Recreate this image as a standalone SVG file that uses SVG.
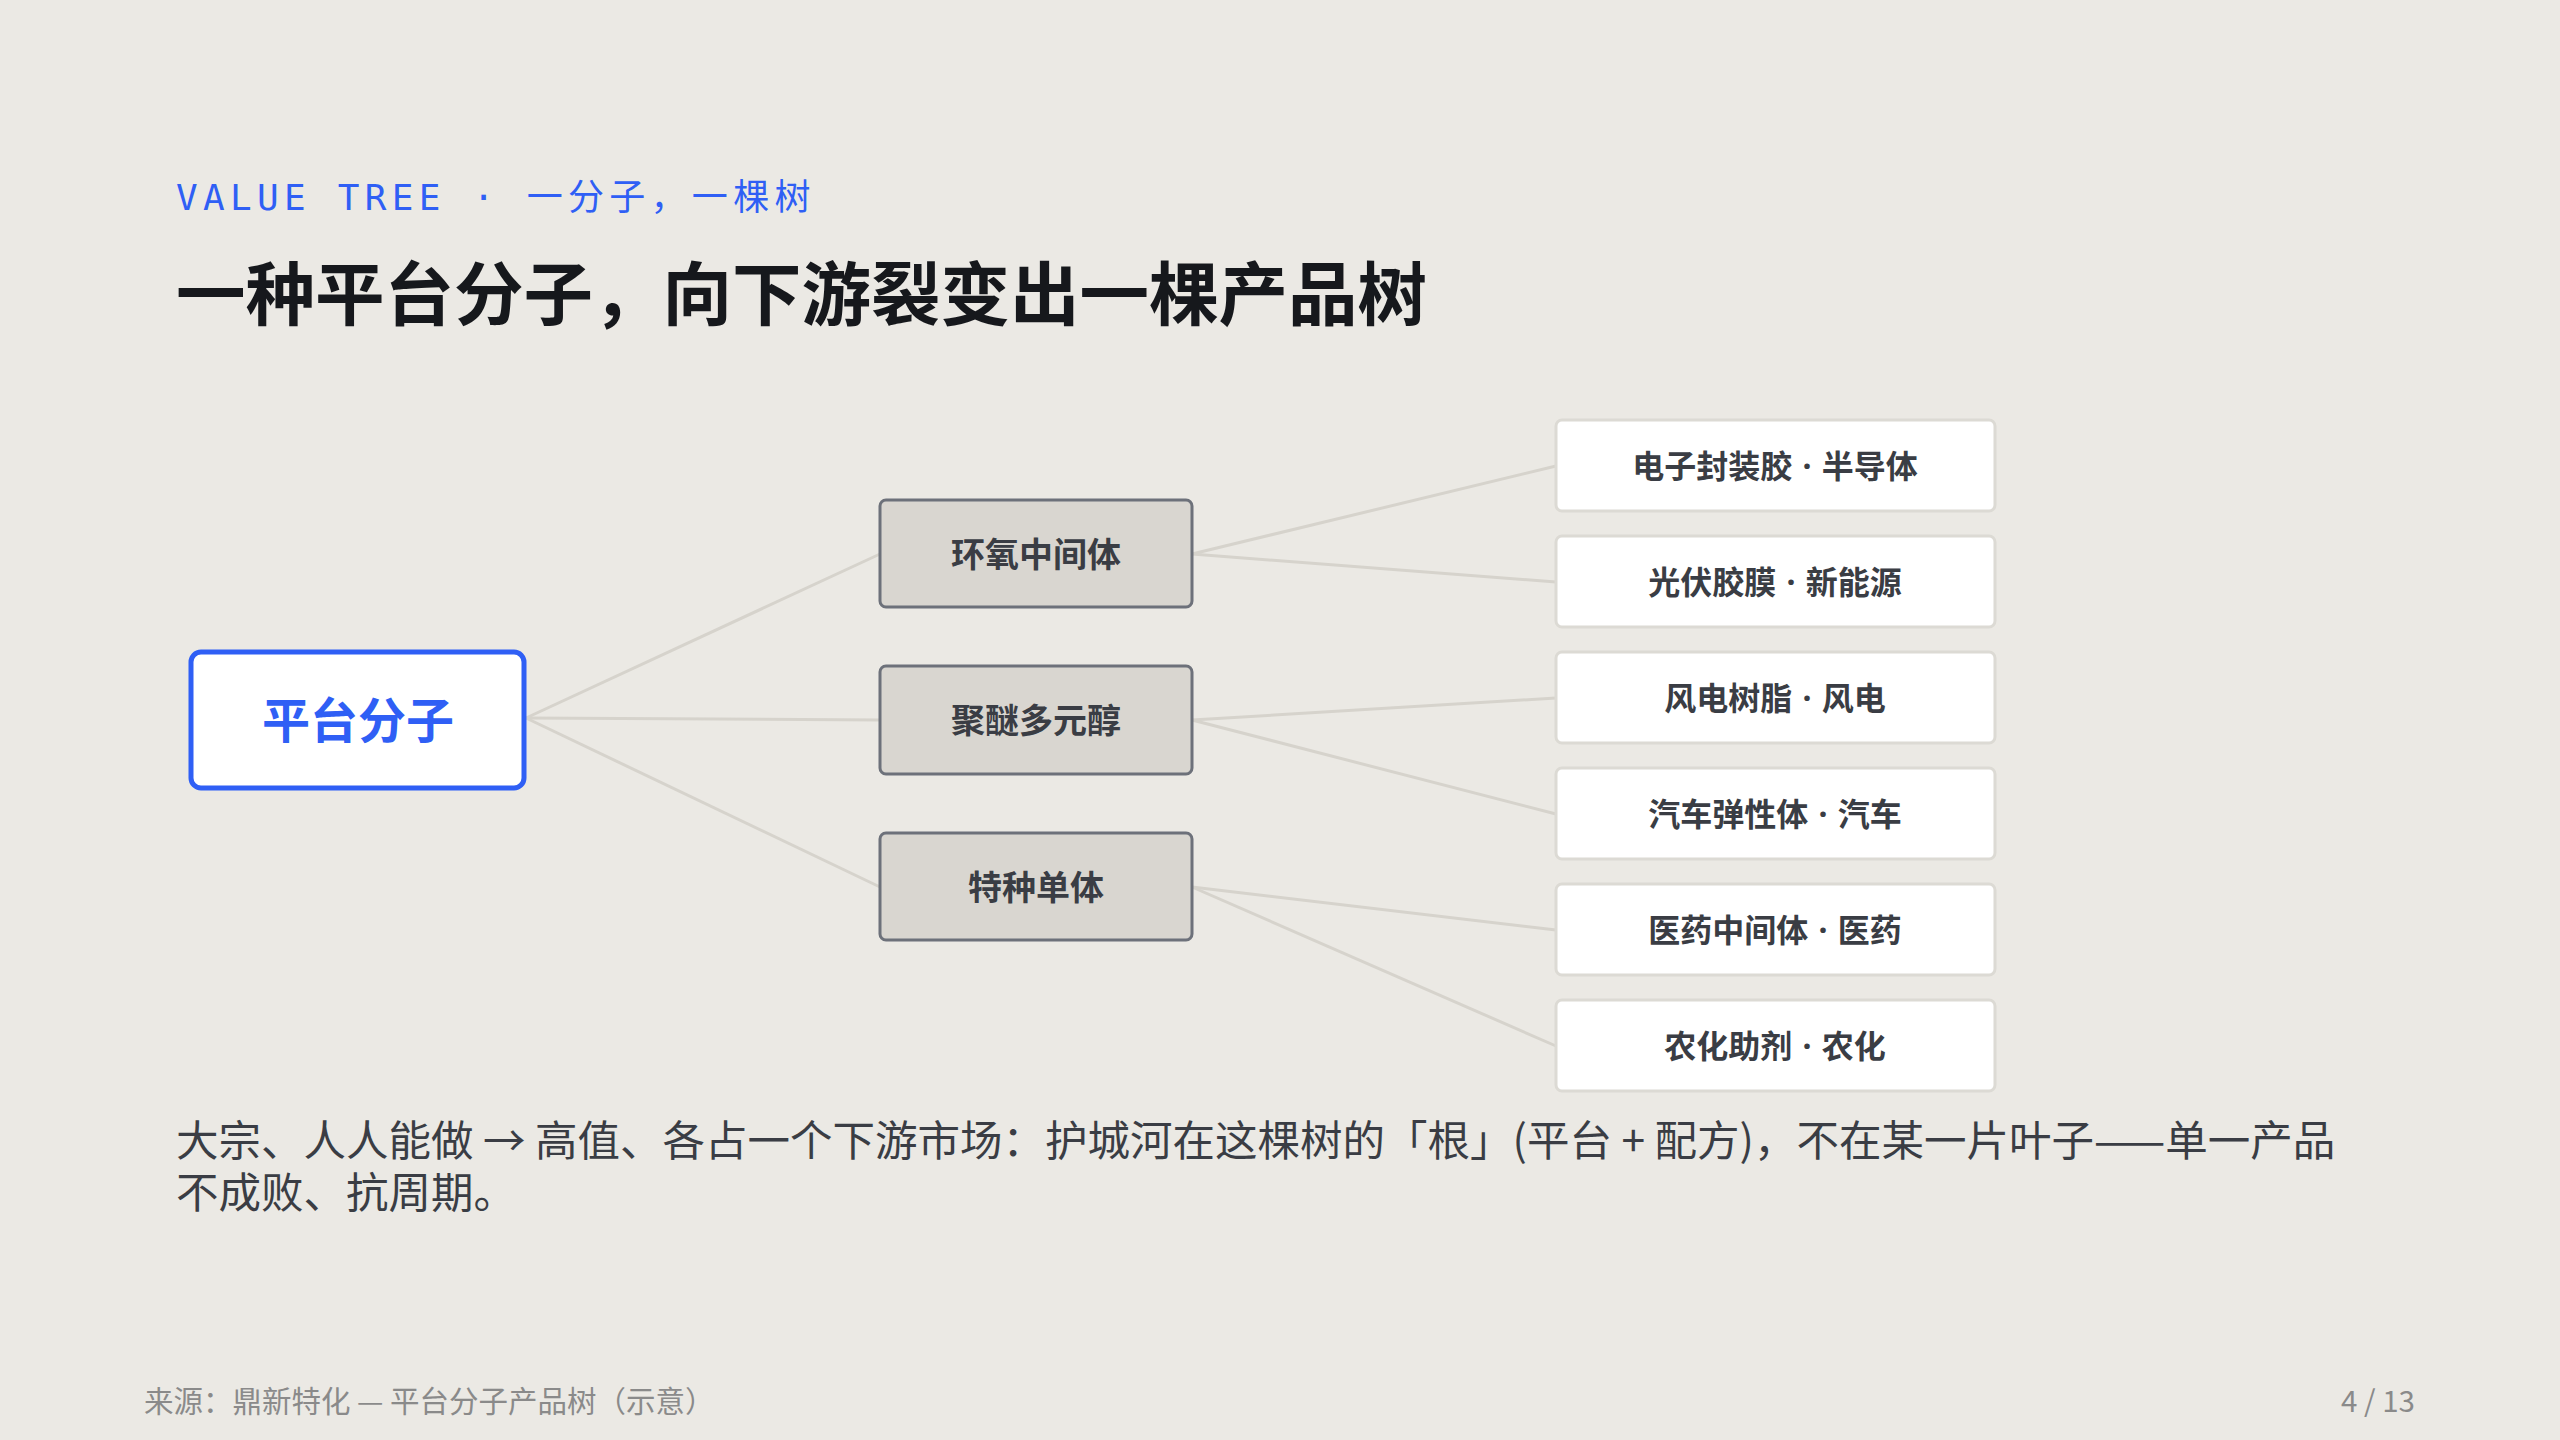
<svg xmlns="http://www.w3.org/2000/svg" width="2560" height="1440" viewBox="0 0 2560 1440">
<style>
text{font-family:"Noto Sans CJK SC","Noto Sans",sans-serif}
.mid rect{fill:#d9d6d0;stroke:#6d717a;stroke-width:3}
.mid text{font-size:34px;font-weight:700;fill:#3a3d44;text-anchor:middle}
.leaf rect{fill:#fff;stroke:#dcdad4;stroke-width:3}
.leaf text{font-size:32px;font-weight:700;fill:#3a3d44;text-anchor:middle;font-family:"Noto Sans","Noto Sans CJK SC",sans-serif;word-spacing:2px}
#edges line{stroke:#d6d3cc;stroke-width:3}
</style>
<rect width="2560" height="1440" fill="#ebe9e4"/>
<text x="176" y="210" font-size="36" fill="#2f5ff5" letter-spacing="5.3" style="font-family:'DejaVu Sans Mono','Noto Sans CJK SC',monospace">VALUE TREE · 一分子，一棵树</text>
<text x="176" y="320" font-size="69.5" font-weight="700" fill="#16181c">一种平台分子，向下游裂变出一棵产品树</text>
<g id="edges">
<line x1="526" y1="718" x2="880" y2="554"/>
<line x1="526" y1="718" x2="880" y2="720"/>
<line x1="526" y1="718" x2="880" y2="887"/>
<line x1="1192" y1="554" x2="1556" y2="466"/>
<line x1="1192" y1="554" x2="1556" y2="582"/>
<line x1="1192" y1="720" x2="1556" y2="698"/>
<line x1="1192" y1="720" x2="1556" y2="814"/>
<line x1="1192" y1="887" x2="1556" y2="930"/>
<line x1="1192" y1="887" x2="1556" y2="1046"/>
</g>
<g id="root"><rect x="191" y="652" width="333" height="136" rx="10" fill="#fff" stroke="#2f5ff5" stroke-width="5"/><text x="358" y="738" font-size="48" font-weight="700" fill="#2f5ff5" text-anchor="middle">平台分子</text></g>
<g id="m1" class="mid"><rect x="880" y="500" width="312" height="107" rx="6"/><text x="1036" y="567">环氧中间体</text></g>
<g id="m2" class="mid"><rect x="880" y="666" width="312" height="108" rx="6"/><text x="1036" y="733">聚醚多元醇</text></g>
<g id="m3" class="mid"><rect x="880" y="833" width="312" height="107" rx="6"/><text x="1036" y="900">特种单体</text></g>
<g id="l1" class="leaf"><rect x="1556" y="420" width="439" height="91" rx="6"/><text x="1775" y="478">电子封装胶 · 半导体</text></g>
<g id="l2" class="leaf"><rect x="1556" y="536" width="439" height="91" rx="6"/><text x="1775" y="594">光伏胶膜 · 新能源</text></g>
<g id="l3" class="leaf"><rect x="1556" y="652" width="439" height="91" rx="6"/><text x="1775" y="710">风电树脂 · 风电</text></g>
<g id="l4" class="leaf"><rect x="1556" y="768" width="439" height="91" rx="6"/><text x="1775" y="826">汽车弹性体 · 汽车</text></g>
<g id="l5" class="leaf"><rect x="1556" y="884" width="439" height="91" rx="6"/><text x="1775" y="942">医药中间体 · 医药</text></g>
<g id="l6" class="leaf"><rect x="1556" y="1000" width="439" height="91" rx="6"/><text x="1775" y="1058">农化助剂 · 农化</text></g>
<text font-size="42.5" fill="#3a3d44"><tspan x="176" y="1156">大宗、人人能做 → 高值、各占一个下游市场：护城河在这棵树的「根」(平台 + 配方)，不在某一片叶子——单一产品</tspan><tspan x="176" y="1208">不成败、抗周期。</tspan></text>
<text x="144" y="1412" font-size="29.5" fill="#8a8a8a">来源：鼎新特化 — 平台分子产品树（示意）</text>
<text x="2415" y="1412" font-size="29.5" fill="#8a8a8a" text-anchor="end">4 / 13</text>
</svg>
